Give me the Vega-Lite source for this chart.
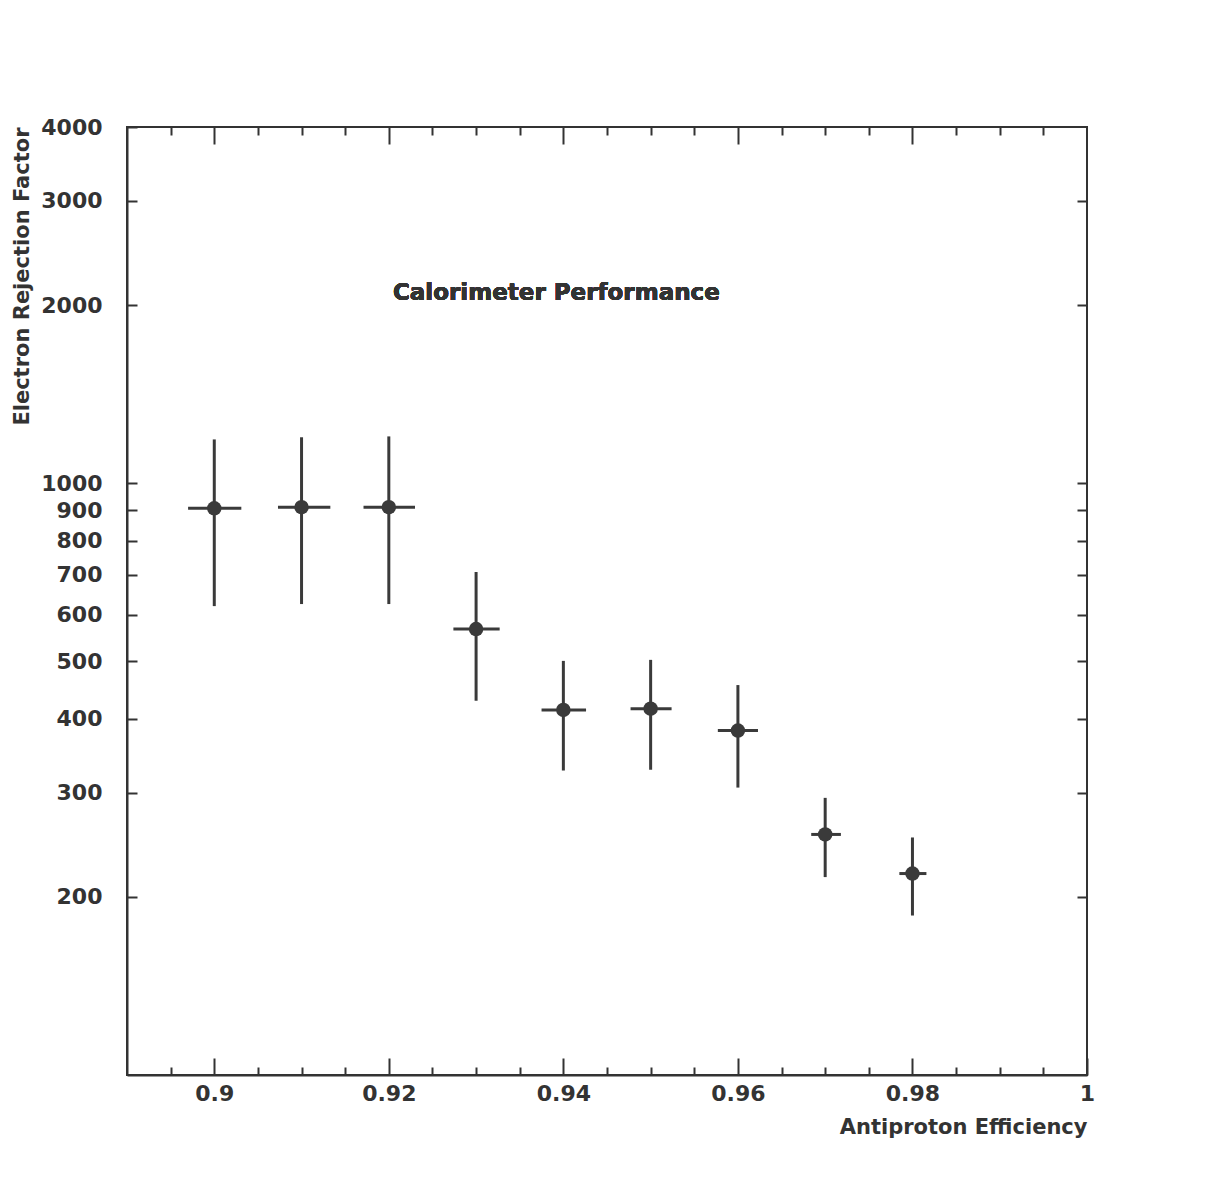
{
  "$schema": "https://vega.github.io/schema/vega-lite/v6.json",
  "width": 960,
  "height": 948,
  "autosize": "none",
  "padding": {"left": 127, "top": 127, "right": 120, "bottom": 116},
  "background": "white",
  "config": {
    "view": {"stroke": "#333333", "strokeWidth": 2},
    "axis": {
      "grid": false,
      "domainColor": "#333333",
      "domainWidth": 2,
      "tickColor": "#333333",
      "tickWidth": 2,
      "labelColor": "#333333",
      "labelFont": "DejaVu Sans",
      "labelFontWeight": "bold",
      "labelFontSize": 22,
      "labelFlush": false,
      "labelOverlap": false,
      "titleColor": "#333333",
      "titleFont": "DejaVu Sans",
      "titleFontWeight": "bold",
      "titleFontSize": 21
    }
  },
  "data": {
    "values": [
      {"eff": 0.90, "rej": 907, "rej_lo": 620, "rej_hi": 1186, "eff_lo": 0.8970, "eff_hi": 0.9031},
      {"eff": 0.91, "rej": 911, "rej_lo": 625, "rej_hi": 1196, "eff_lo": 0.9073, "eff_hi": 0.9133},
      {"eff": 0.92, "rej": 911, "rej_lo": 625, "rej_hi": 1200, "eff_lo": 0.9171, "eff_hi": 0.9230},
      {"eff": 0.93, "rej": 567, "rej_lo": 429, "rej_hi": 708, "eff_lo": 0.9274, "eff_hi": 0.9327},
      {"eff": 0.94, "rej": 414, "rej_lo": 327, "rej_hi": 501, "eff_lo": 0.9375, "eff_hi": 0.9426},
      {"eff": 0.95, "rej": 416, "rej_lo": 328, "rej_hi": 503, "eff_lo": 0.9477, "eff_hi": 0.9524},
      {"eff": 0.96, "rej": 382, "rej_lo": 306, "rej_hi": 456, "eff_lo": 0.9577, "eff_hi": 0.9623},
      {"eff": 0.97, "rej": 255, "rej_lo": 216, "rej_hi": 294, "eff_lo": 0.9684, "eff_hi": 0.9718},
      {"eff": 0.98, "rej": 219, "rej_lo": 186, "rej_hi": 252, "eff_lo": 0.9785, "eff_hi": 0.9816}
    ]
  },
  "layer": [
    {
      "layer": [
        {
          "mark": {"type": "rule", "color": "#3a3a3a", "strokeWidth": 3},
          "encoding": {
            "x": {
              "field": "eff", "type": "quantitative",
              "scale": {"domain": [0.89, 1.0], "nice": false, "zero": false},
              "axis": {
                "orient": "bottom",
                "title": "Antiproton Efficiency",
                "titleAnchor": "end",
                "titlePadding": 12,
                "values": [0.895, 0.9, 0.905, 0.91, 0.915, 0.92, 0.925, 0.93, 0.935, 0.94, 0.945, 0.95, 0.955, 0.96, 0.965, 0.97, 0.975, 0.98, 0.985, 0.99, 0.995, 1.0],
                "format": "~g",
                "labelExpr": "abs(datum.value*50 - round(datum.value*50)) < 0.001 ? datum.label : ''",
                "tickSize": -17,
                "labelPadding": 25,
                "tickDash": {"condition": {"test": "abs(datum.value*50 - round(datum.value*50)) < 0.001", "value": [30, 1]}, "value": [8, 40]}
              }
            },
            "y": {
              "field": "rej_lo", "type": "quantitative",
              "scale": {"type": "log", "domain": [100, 4000], "nice": false, "zero": false},
              "axis": {
                "orient": "left",
                "title": "Electron Rejection Factor",
                "titleAnchor": "end",
                "titlePadding": 8,
                "values": [200, 300, 400, 500, 600, 700, 800, 900, 1000, 2000, 3000, 4000],
                "format": "d",
                "tickSize": -10,
                "labelPadding": 35
              }
            },
            "y2": {"field": "rej_hi"}
          }
        },
        {
          "mark": {"type": "rule", "color": "#3a3a3a", "strokeWidth": 3},
          "encoding": {
            "x": {"field": "eff_lo", "type": "quantitative"},
            "x2": {"field": "eff_hi"},
            "y": {"field": "rej", "type": "quantitative"}
          }
        },
        {
          "mark": {"type": "circle", "color": "#3a3a3a", "opacity": 1, "size": 210},
          "encoding": {
            "x": {"field": "eff", "type": "quantitative"},
            "y": {"field": "rej", "type": "quantitative"}
          }
        },
        {
          "mark": {"type": "text", "text": "Calorimeter Performance", "font": "DejaVu Sans", "fontWeight": "bold", "fontSize": 23, "color": "#333333", "align": "center", "baseline": "middle"},
          "encoding": {
            "x": {"datum": 0.9392, "type": "quantitative"},
            "y": {"datum": 2100, "type": "quantitative"}
          }
        }
      ]
    },
    {
      "mark": {"type": "point", "opacity": 0},
      "encoding": {
        "x": {
          "field": "eff", "type": "quantitative",
          "axis": {
            "orient": "top",
            "title": null,
            "labels": false,
            "domain": false,
            "values": [0.895, 0.9, 0.905, 0.91, 0.915, 0.92, 0.925, 0.93, 0.935, 0.94, 0.945, 0.95, 0.955, 0.96, 0.965, 0.97, 0.975, 0.98, 0.985, 0.99, 0.995],
            "tickSize": -17,
            "tickDash": {"condition": {"test": "abs(datum.value*50 - round(datum.value*50)) < 0.001", "value": [30, 1]}, "value": [8, 40]}
          }
        },
        "y": {
          "field": "rej", "type": "quantitative",
          "axis": {
            "orient": "right",
            "title": null,
            "labels": false,
            "domain": false,
            "values": [200, 300, 400, 500, 600, 700, 800, 900, 1000, 2000, 3000],
            "tickSize": -10
          }
        }
      }
    }
  ],
  "resolve": {"axis": {"x": "independent", "y": "independent"}}
}
